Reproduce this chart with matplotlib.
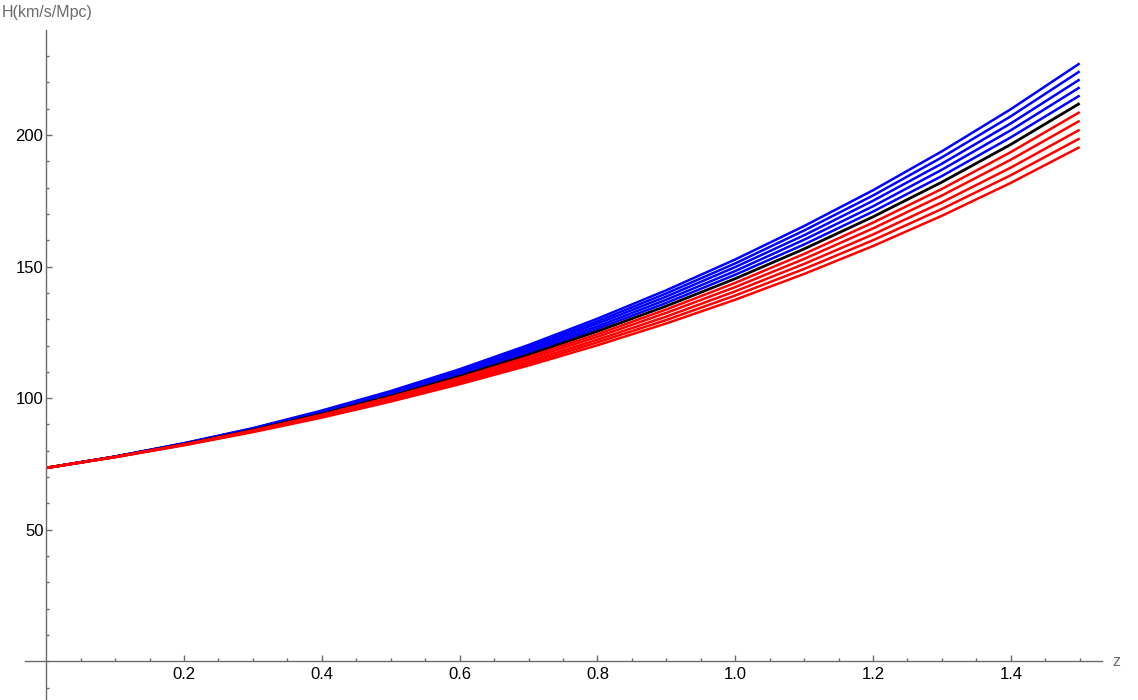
# coding: utf-8
"""
H(z) curves, Mathematica-style axes crossing at the origin
"""
import numpy as np
import matplotlib
matplotlib.use("Agg")
import matplotlib.pyplot as plt

plt.rcParams['font.family'] = ['Liberation Sans', 'DejaVu Sans']

# Section 1 : data

z = [0.0, 0.1, 0.2, 0.3, 0.4, 0.5, 0.6, 0.7, 0.8, 0.9, 1.0, 1.1, 1.2, 1.3, 1.4, 1.5]

h_black = [73.5, 77.7, 82.5, 87.9, 94.0, 100.8, 108.3, 116.5, 125.4, 135.0, 145.4, 156.7, 168.9, 182.1, 196.4, 212.0]

# blue curves, from nearest the black one to the top one
h_blue_1 = [73.5, 77.7, 82.6, 88.0, 94.3, 101.2, 108.8, 117.2, 126.4, 136.2, 146.9, 158.4, 170.9, 184.4, 199.1, 215.0]
h_blue_2 = [73.5, 77.7, 82.7, 88.2, 94.5, 101.6, 109.4, 118.0, 127.3, 137.4, 148.3, 160.2, 172.9, 186.8, 201.8, 218.1]
h_blue_3 = [73.5, 77.8, 82.7, 88.3, 94.8, 101.9, 109.9, 118.7, 128.3, 138.6, 149.8, 161.9, 175.0, 189.1, 204.4, 221.1]
h_blue_4 = [73.5, 77.8, 82.8, 88.5, 95.0, 102.3, 110.5, 119.5, 129.2, 139.8, 151.2, 163.7, 177.0, 191.5, 207.1, 224.2]
h_blue_5 = [73.5, 77.8, 82.9, 88.6, 95.3, 102.7, 111.0, 120.2, 130.2, 141.0, 152.7, 165.4, 179.0, 193.8, 209.8, 227.2]

# red curves, from nearest the black one to the bottom one
h_red_1 = [73.5, 77.7, 82.4, 87.7, 93.7, 100.4, 107.7, 115.7, 124.3, 133.7, 143.8, 154.8, 166.7, 179.5, 193.5, 208.7]
h_red_2 = [73.5, 77.7, 82.3, 87.6, 93.4, 100.0, 107.1, 114.9, 123.3, 132.4, 142.2, 152.9, 164.5, 177.0, 190.6, 205.4]
h_red_3 = [73.5, 77.6, 82.3, 87.4, 93.2, 99.5, 106.5, 114.0, 122.2, 131.0, 140.6, 151.0, 162.2, 174.4, 187.6, 202.0]
h_red_4 = [73.5, 77.6, 82.2, 87.3, 92.9, 99.1, 105.9, 113.2, 121.2, 129.7, 139.0, 149.1, 160.0, 171.9, 184.7, 198.7]
h_red_5 = [73.5, 77.6, 82.1, 87.1, 92.6, 98.7, 105.3, 112.4, 120.1, 128.4, 137.4, 147.2, 157.8, 169.3, 181.8, 195.4]

x_ticks = [0.2, 0.4, 0.6, 0.8, 1.0, 1.2, 1.4]
x_tick_labels = ["0.2", "0.4", "0.6", "0.8", "1.0", "1.2", "1.4"]
y_ticks = [50, 100, 150, 200]
y_tick_labels = ["50", "100", "150", "200"]

# Section 2 : figure

AXIS_GRAY = '#6b6b6b'

fig = plt.figure(figsize=(11.38, 7), dpi=100)
ax = fig.add_axes([25 / 1138, 0, 1077 / 1138, 670 / 700])
ax.set_xlim(-0.0308, 1.5324)
ax.set_ylim(-14.7, 239.9)

for h in [h_blue_1, h_blue_2, h_blue_3, h_blue_4, h_blue_5]:
    ax.plot(z, h, color=(0, 0, 1), lw=1.8, solid_capstyle='butt')
ax.plot(z, h_black, color='black', lw=2.0, solid_capstyle='butt')
for h in [h_red_1, h_red_2, h_red_3, h_red_4, h_red_5]:
    ax.plot(z, h, color=(1, 0, 0), lw=1.8, solid_capstyle='butt')

# axes through the origin
for side in ['top', 'right']:
    ax.spines[side].set_visible(False)
for side in ['left', 'bottom']:
    ax.spines[side].set_position(('data', 0))
    ax.spines[side].set_color(AXIS_GRAY)
    ax.spines[side].set_linewidth(1.0)

ax.set_xticks(x_ticks, x_tick_labels)
ax.set_yticks(y_ticks, y_tick_labels)
ax.set_xticks(np.arange(0.05, 1.51, 0.05), minor=True)
ax.set_yticks(np.arange(-10, 231, 10), minor=True)

ax.tick_params(which='major', direction='in', length=4, width=1, color=AXIS_GRAY,
               labelsize=12, labelcolor='black')
ax.tick_params(which='minor', direction='in', length=2.3, width=1, color=AXIS_GRAY)
ax.tick_params(axis='x', which='major', pad=4)
ax.tick_params(axis='y', which='major', pad=2)

# axis labels
fig.text(2 / 1138, 1 - 13 / 700, "H(km/s/Mpc)", ha='left', va='center',
         fontsize=11.5, color=AXIS_GRAY)
fig.text(1112 / 1138, 1 - 661 / 700, "z", ha='left', va='center',
         fontsize=11.5, color=AXIS_GRAY)

fig.savefig('out.png', dpi=100)
